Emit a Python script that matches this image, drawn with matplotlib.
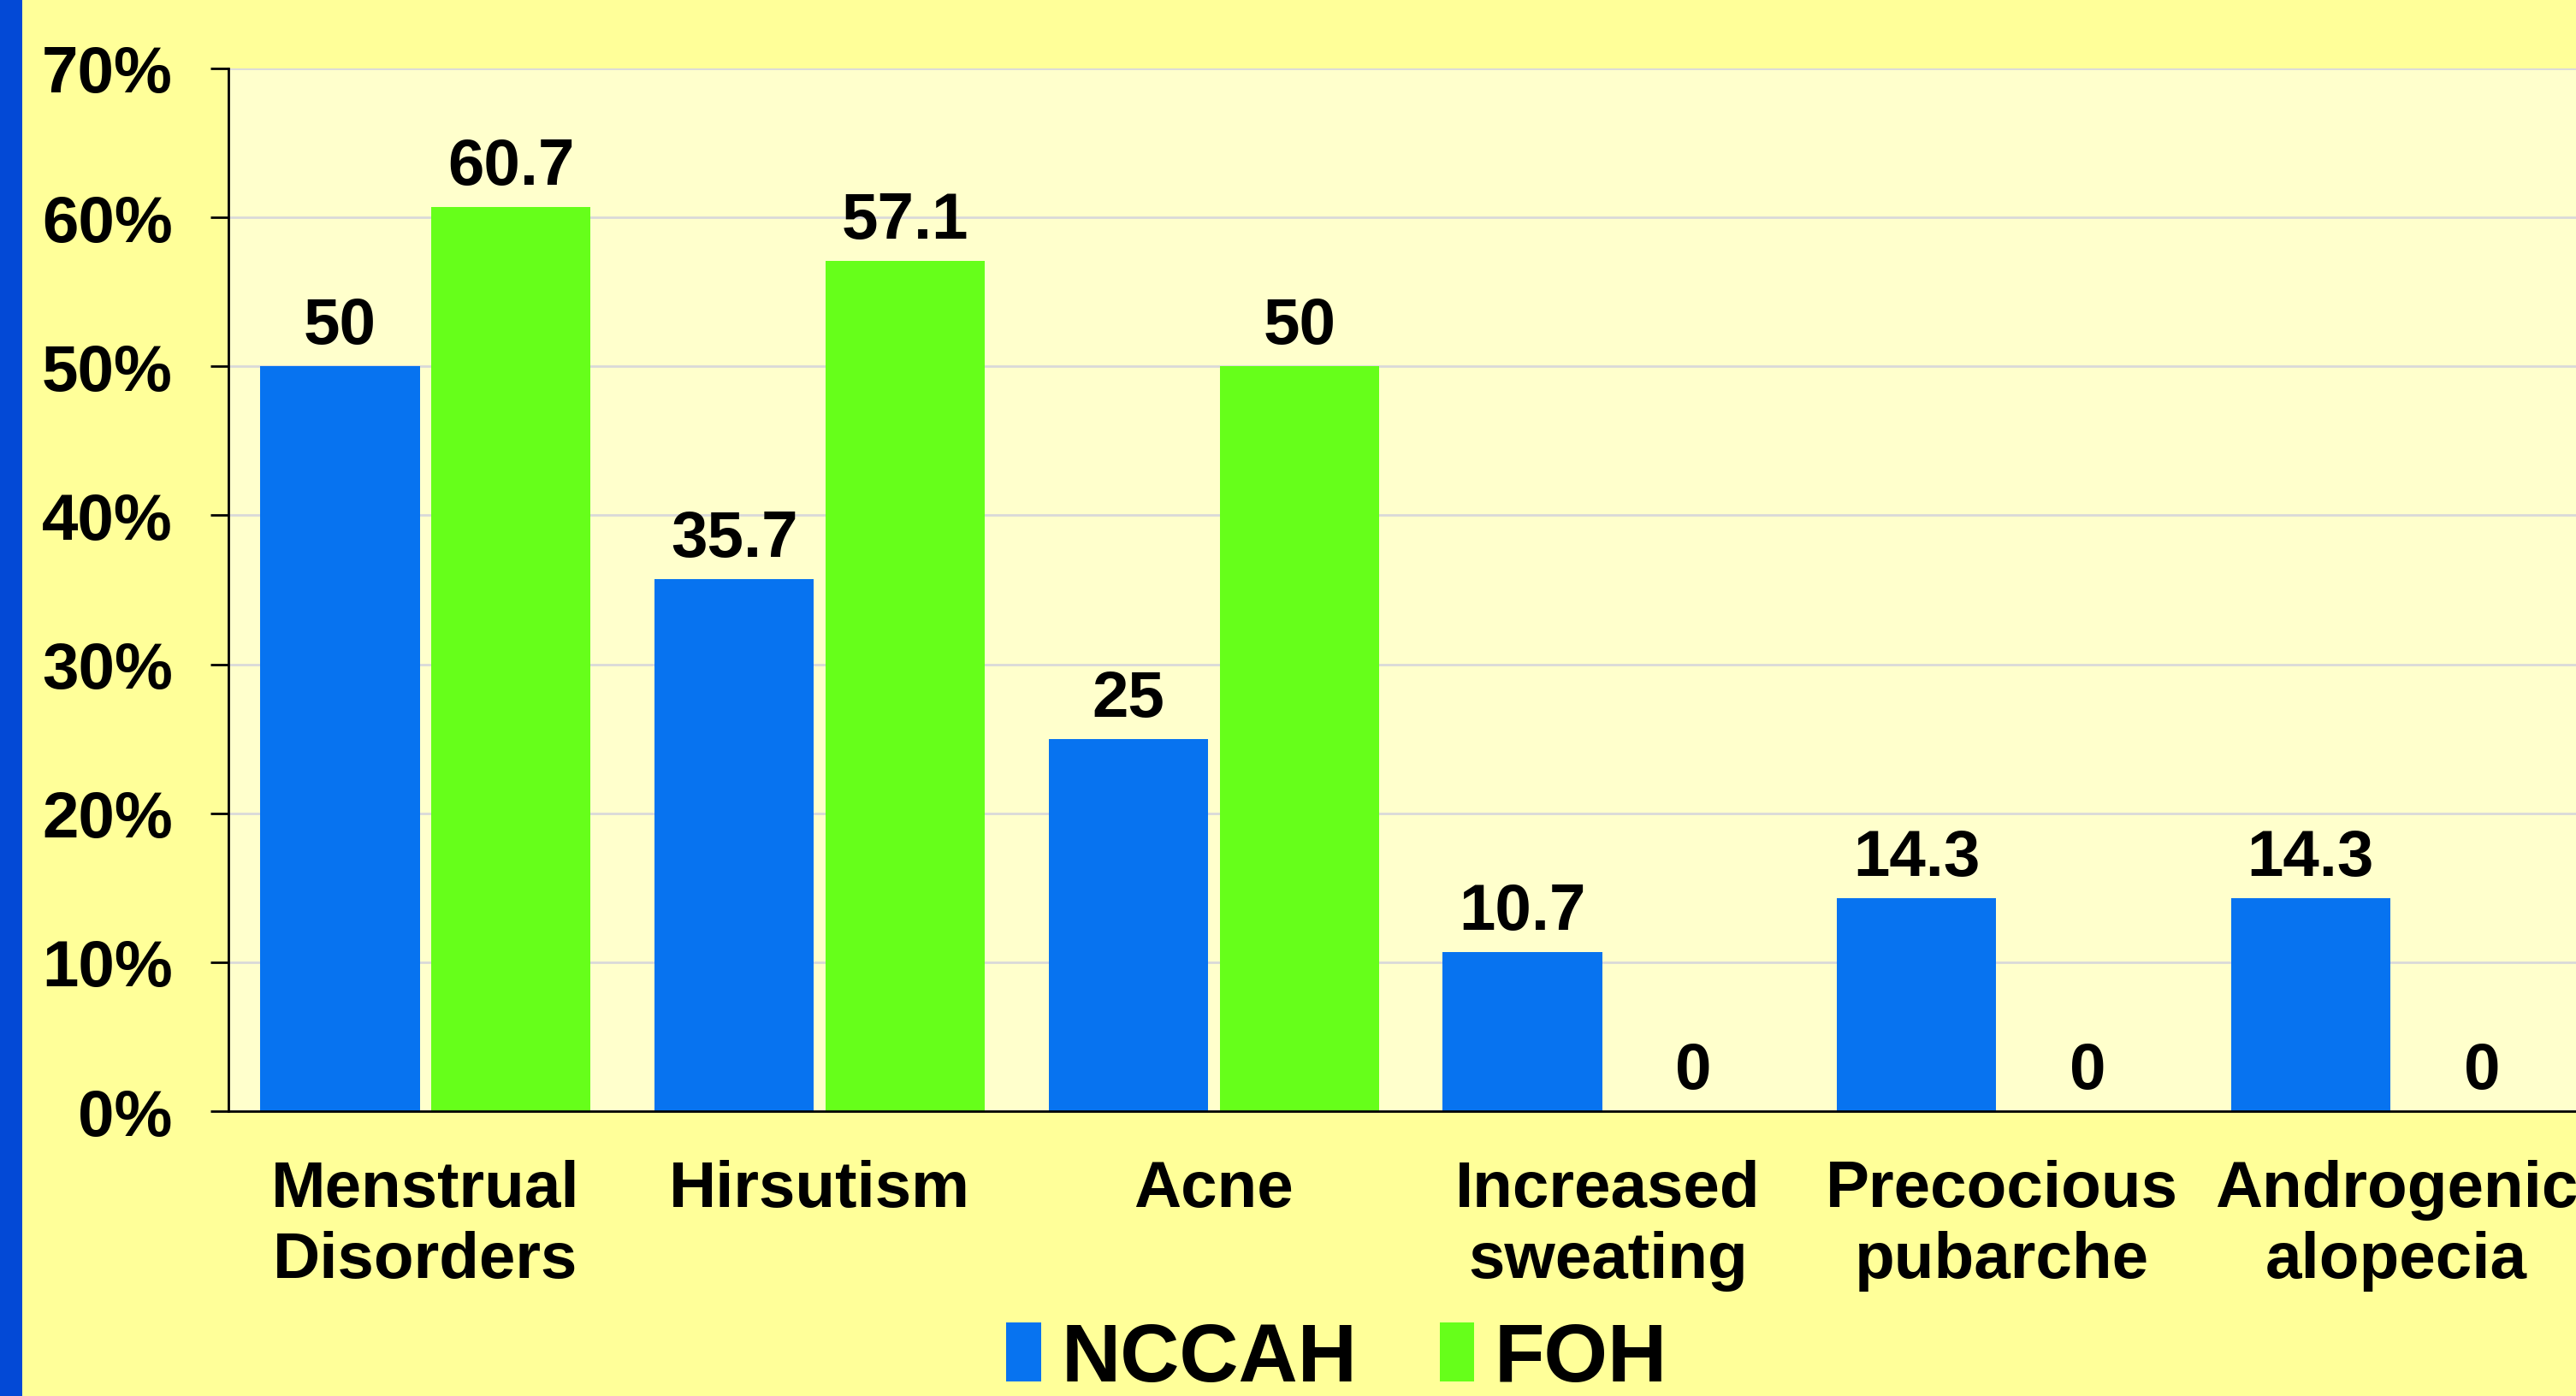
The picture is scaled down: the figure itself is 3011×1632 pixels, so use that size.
import matplotlib
matplotlib.use('Agg')
import matplotlib.pyplot as plt
import numpy as np
from matplotlib.patches import Rectangle

plt.rcParams['font.family'] = ['Liberation Sans', 'DejaVu Sans']
plt.rcParams['font.weight'] = 'bold'

# data
categories = ['Menstrual\nDisorders', 'Hirsutism', 'Acne', 'Increased\nsweating',
              'Precocious\npubarche', 'Androgenic\nalopecia']
nccah = [50, 35.7, 25, 10.7, 14.3, 14.3]
foh = [60.7, 57.1, 50, 0, 0, 0]
nccah_lbl = ['50', '35.7', '25', '10.7', '14.3', '14.3']
foh_lbl = ['60.7', '57.1', '50', '0', '0', '0']
yticks = [0, 10, 20, 30, 40, 50, 60, 70]

blue = '#0773F0'
green = '#66FF1A'

fig = plt.figure(figsize=(30.11, 16.33), dpi=100)
fig.patch.set_facecolor('#FFFF99')

# blue stripe on the left of the slide
fig.add_artist(Rectangle((0, 0), 26 / 3011, 1, transform=fig.transFigure,
                         facecolor='#0349D6', edgecolor='none'))

ax = fig.add_axes([0.0887, 0.2039, 0.918, 0.7465])
ax.set_facecolor('#FFFFCC')

x = np.arange(len(categories))
w = 0.404
off = 0.217
ax.bar(x - off, nccah, w, color=blue, label='NCCAH', zorder=3)
ax.bar(x + off, foh, w, color=green, label='FOH', zorder=3)

for xi, v, s in zip(x, nccah, nccah_lbl):
    ax.annotate(s, (xi - off, v), xytext=(0, 8), textcoords='offset points',
                ha='center', va='bottom', fontsize=55, fontweight='bold')
for xi, v, s in zip(x, foh, foh_lbl):
    ax.annotate(s, (xi + off, v), xytext=(0, 8), textcoords='offset points',
                ha='center', va='bottom', fontsize=55, fontweight='bold')

ax.set_xlim(-0.5, 5.5)
ax.set_ylim(0, 70)
ax.set_yticks(yticks)
ax.set_yticklabels(['%d%%' % t for t in yticks])
ax.set_xticks(x)
ax.set_xticklabels(categories, linespacing=1.22)

ax.tick_params(axis='y', labelsize=55, length=15, width=2, pad=32)
ax.tick_params(axis='x', labelsize=55, length=0, pad=40)

ax.grid(axis='y', color='#D9D9D9', linewidth=2, zorder=0)
ax.set_axisbelow(True)
for s in ['top', 'right']:
    ax.spines[s].set_visible(False)
ax.spines['left'].set_linewidth(2)
ax.spines['bottom'].set_linewidth(2)
ax.spines['bottom'].set_zorder(4)

leg = fig.legend(loc='center', bbox_to_anchor=(0.519, 1 - 1590 / 1633), ncol=2,
                 frameon=False, fontsize=69, handlelength=0.42, handleheight=0.72,
                 handletextpad=0.25, columnspacing=1.0)
for t in leg.get_texts():
    t.set_fontweight('bold')

fig.savefig('out.png', dpi=100, facecolor=fig.get_facecolor())
